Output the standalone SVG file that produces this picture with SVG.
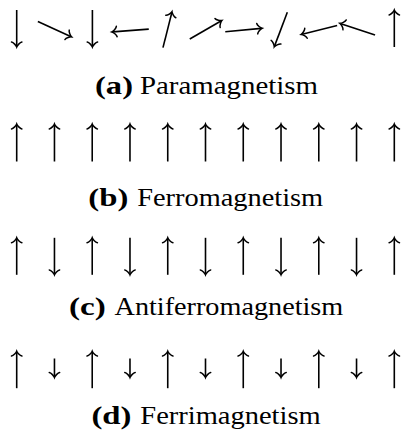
<svg xmlns="http://www.w3.org/2000/svg" width="403" height="438" viewBox="0 0 403 438">
<style>
.s{stroke:#000;stroke-width:1.6;fill:none;marker-end:url(#tip)}
.t{font-family:"Liberation Serif","Times New Roman",serif;font-size:26px;fill:#000}
.b{font-weight:bold}
</style>
<defs>
<marker id="tip" markerUnits="userSpaceOnUse" orient="auto" refX="0" refY="0" markerWidth="12" markerHeight="12" viewBox="-6 -6 12 12" overflow="visible">
<path d="M-3.9,-5.2 C-3.6,-3.2 -0.4,-0.5 1,0 C-0.4,0.5 -3.6,3.2 -3.9,5.2" fill="none" stroke="#000" stroke-width="1.5" stroke-linecap="round"/>
</marker>
</defs>
<g id="row-a">
<line class="s" x1="16.7" y1="10" x2="16.7" y2="46"/>
<line class="s" x1="37.86" y1="21.52" x2="70.63" y2="36.47"/>
<line class="s" x1="92.4" y1="10" x2="92.4" y2="46"/>
<line class="s" x1="148.74" y1="29.08" x2="112.86" y2="31.84"/>
<line class="s" x1="162.99" y1="47.64" x2="171.77" y2="12.73"/>
<line class="s" x1="189.78" y1="39.05" x2="220.95" y2="21.05"/>
<line class="s" x1="225.28" y1="31.74" x2="261.12" y2="28.35"/>
<line class="s" x1="287.33" y1="12.2" x2="274.62" y2="45.87"/>
<line class="s" x1="337.16" y1="25.58" x2="302.21" y2="34.18"/>
<line class="s" x1="375.04" y1="35.06" x2="340.91" y2="23.66"/>
<line class="s" x1="394.3" y1="47" x2="394.3" y2="11"/>
</g>
<g id="label-a"><text class="t" y="94"><tspan class="b" x="95" textLength="38" lengthAdjust="spacingAndGlyphs">(a)</tspan><tspan x="140" textLength="178" lengthAdjust="spacingAndGlyphs">Paramagnetism</tspan></text></g>
<g id="row-b">
<line class="s" x1="16.7" y1="161.5" x2="16.7" y2="125"/>
<line class="s" x1="54.46" y1="161.5" x2="54.46" y2="125"/>
<line class="s" x1="92.22" y1="161.5" x2="92.22" y2="125"/>
<line class="s" x1="129.98" y1="161.5" x2="129.98" y2="125"/>
<line class="s" x1="167.74" y1="161.5" x2="167.74" y2="125"/>
<line class="s" x1="205.5" y1="161.5" x2="205.5" y2="125"/>
<line class="s" x1="243.26" y1="161.5" x2="243.26" y2="125"/>
<line class="s" x1="281.02" y1="161.5" x2="281.02" y2="125"/>
<line class="s" x1="318.78" y1="161.5" x2="318.78" y2="125"/>
<line class="s" x1="356.54" y1="161.5" x2="356.54" y2="125"/>
<line class="s" x1="394.3" y1="161.5" x2="394.3" y2="125"/>
</g>
<g id="label-b"><text class="t" y="206"><tspan class="b" x="88.3" textLength="40" lengthAdjust="spacingAndGlyphs">(b)</tspan><tspan x="137.2" textLength="186" lengthAdjust="spacingAndGlyphs">Ferromagnetism</tspan></text></g>
<g id="row-c">
<line class="s" x1="16.7" y1="274.8" x2="16.7" y2="238.8"/>
<line class="s" x1="54.46" y1="237.8" x2="54.46" y2="273.8"/>
<line class="s" x1="92.22" y1="274.8" x2="92.22" y2="238.8"/>
<line class="s" x1="129.98" y1="237.8" x2="129.98" y2="273.8"/>
<line class="s" x1="167.74" y1="274.8" x2="167.74" y2="238.8"/>
<line class="s" x1="205.5" y1="237.8" x2="205.5" y2="273.8"/>
<line class="s" x1="243.26" y1="274.8" x2="243.26" y2="238.8"/>
<line class="s" x1="281.02" y1="237.8" x2="281.02" y2="273.8"/>
<line class="s" x1="318.78" y1="274.8" x2="318.78" y2="238.8"/>
<line class="s" x1="356.54" y1="237.8" x2="356.54" y2="273.8"/>
<line class="s" x1="394.3" y1="274.8" x2="394.3" y2="238.8"/>
</g>
<g id="label-c"><text class="t" y="315"><tspan class="b" x="69" textLength="36.8" lengthAdjust="spacingAndGlyphs">(c)</tspan><tspan x="114.5" textLength="228.8" lengthAdjust="spacingAndGlyphs">Antiferromagnetism</tspan></text></g>
<g id="row-d">
<line class="s" x1="16.7" y1="388.2" x2="16.7" y2="352.2"/>
<line class="s" x1="54.46" y1="358.5" x2="54.46" y2="376.5"/>
<line class="s" x1="92.22" y1="388.2" x2="92.22" y2="352.2"/>
<line class="s" x1="129.98" y1="358.5" x2="129.98" y2="376.5"/>
<line class="s" x1="167.74" y1="388.2" x2="167.74" y2="352.2"/>
<line class="s" x1="205.5" y1="358.5" x2="205.5" y2="376.5"/>
<line class="s" x1="243.26" y1="388.2" x2="243.26" y2="352.2"/>
<line class="s" x1="281.02" y1="358.5" x2="281.02" y2="376.5"/>
<line class="s" x1="318.78" y1="388.2" x2="318.78" y2="352.2"/>
<line class="s" x1="356.54" y1="358.5" x2="356.54" y2="376.5"/>
<line class="s" x1="394.3" y1="388.2" x2="394.3" y2="352.2"/>
</g>
<g id="label-d"><text class="t" y="424"><tspan class="b" x="91.4" textLength="40" lengthAdjust="spacingAndGlyphs">(d)</tspan><tspan x="140.3" textLength="180.4" lengthAdjust="spacingAndGlyphs">Ferrimagnetism</tspan></text></g>
</svg>
